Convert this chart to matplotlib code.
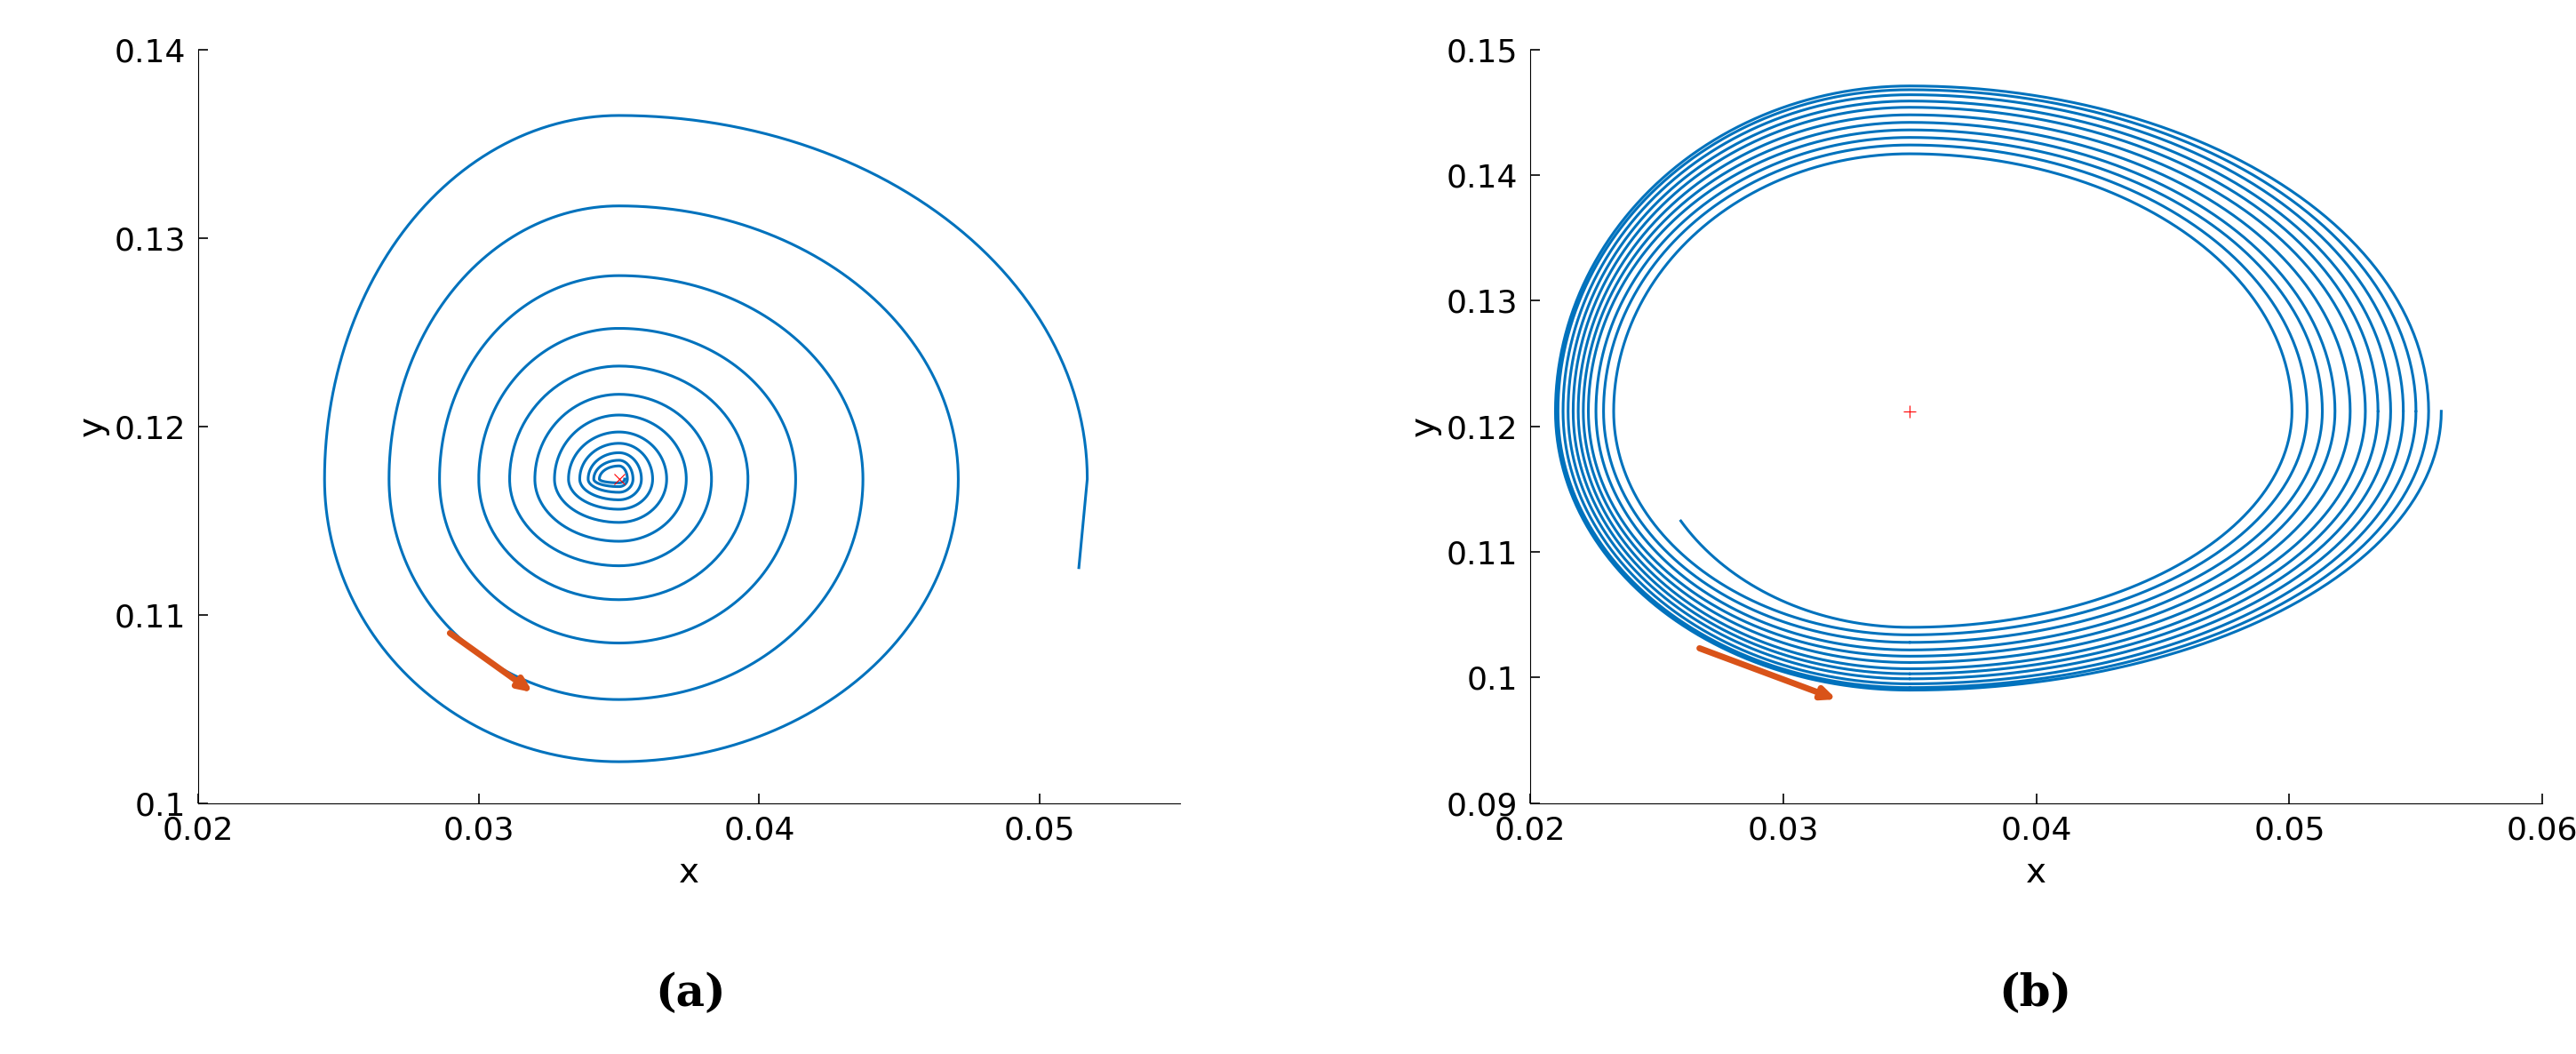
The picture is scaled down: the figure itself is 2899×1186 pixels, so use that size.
import numpy as np
import matplotlib
matplotlib.use("Agg")
import matplotlib.pyplot as plt

# ---- data: quarter-turn extremes ----
# panel (a): counter-clockwise inward spiral, center
a_center = (0.0350, 0.1172)
a_right  = [0.0517, 0.0471, 0.0437, 0.0413, 0.0396, 0.0383, 0.0374, 0.0367, 0.0362, 0.0358, 0.0355, 0.0353]
a_top    = [0.1365, 0.1317, 0.1280, 0.1252, 0.1232, 0.1217, 0.1206, 0.1197, 0.1191, 0.1186, 0.1182, 0.1179]
a_left   = [0.0245, 0.0268, 0.0286, 0.0300, 0.0311, 0.0320, 0.0327, 0.0332, 0.0336, 0.0339, 0.0341, 0.0343]
a_bottom = [0.1022, 0.1055, 0.1085, 0.1108, 0.1126, 0.1139, 0.1149, 0.1156, 0.1161, 0.1165, 0.1168, 0.1170]
a_start = (0.0514, 0.1125)
a_arrow = ((0.0289, 0.1091), (0.0320, 0.1058))

# panel (b): counter-clockwise outward spiral
b_center = (0.0350, 0.1212)
b_left   = [0.0245, 0.0233, 0.0229, 0.0226, 0.0223, 0.0221, 0.0219, 0.0217, 0.0215, 0.0213, 0.0211, 0.0210]
b_bottom = [0.1040, 0.1034, 0.1028, 0.1022, 0.1017, 0.1012, 0.1007, 0.1003, 0.0999, 0.0995, 0.0992, 0.0990]
b_right  = [0.0501, 0.0507, 0.0513, 0.0518, 0.0524, 0.0530, 0.0535, 0.0540, 0.0545, 0.0550, 0.0555, 0.0560]
b_top    = [0.1417, 0.1424, 0.1430, 0.1436, 0.1442, 0.1448, 0.1454, 0.1459, 0.1464, 0.1468, 0.1471, 0.1473]
b_start_y = 0.1125
b_arrow = ((0.0266, 0.1024), (0.0322, 0.0982))

BLUE = "#0072BD"
ORANGE = "#D95319"

def quarter(cx, cy, p0, p1, t0, t1, n=60):
    # p0 / p1 are radii along the axes at angles t0 / t1
    t = np.linspace(t0, t1, n)
    rx = np.where(np.abs(np.cos(t)) > 0, 1, 1)
    xs, ys = [], []
    return t

def arc(cx, cy, ext, angles, n=60):
    # ext: list of (value, kind) in order; angles: start angle of each
    X, Y = [], []
    for (v0, k0, a0), (v1, k1, a1) in zip(ext[:-1], ext[1:]):
        t = np.linspace(a0, a1, n)
        if k0 == 'x':
            rx, ry = v0 - cx, v1 - cy
        else:
            ry, rx = v0 - cy, v1 - cx
        rx, ry = abs(rx), abs(ry)
        X.append(cx + rx * np.cos(t)); Y.append(cy + ry * np.sin(t))
    return np.concatenate(X), np.concatenate(Y)

fig = plt.figure(figsize=(28.99, 11.86), dpi=100)
plt.rcParams['font.family'] = ['DejaVu Sans']

# ---- (a)
cx, cy = a_center
ext = []
ang = 0.0
for r, t, l, b in zip(a_right, a_top, a_left, a_bottom):
    ext += [(r, 'x', ang), (t, 'y', ang + np.pi/2), (l, 'x', ang + np.pi), (b, 'y', ang + 1.5*np.pi)]
    ang += 2*np.pi
ext.append((a_center[0]+0.0002, 'x', ang))
xa, ya = arc(cx, cy, ext, None)
xa = np.concatenate([[a_start[0]], xa]); ya = np.concatenate([[a_start[1]], ya])

ax1 = fig.add_axes([0.077, 0.238, 0.381, 0.715])
ax1.plot(xa, ya, color=BLUE, lw=2.2)
ax1.plot(*a_center, marker='x', color='red', ms=8, mew=0.8)
ax1.annotate('', xy=a_arrow[1], xytext=a_arrow[0],
             arrowprops=dict(arrowstyle='-|>,head_length=0.9,head_width=0.4', color=ORANGE, lw=5))
ax1.set_xlim(0.02, 0.055); ax1.set_ylim(0.1, 0.14)
ax1.set_xticks([0.02, 0.03, 0.04, 0.05]); ax1.set_xticklabels(['0.02', '0.03', '0.04', '0.05'])
ax1.set_yticks([0.1, 0.11, 0.12, 0.13, 0.14]); ax1.set_yticklabels(['0.1', '0.11', '0.12', '0.13', '0.14'])

# ---- (b)
cx, cy = b_center
ext = []
ang = np.pi
for l, b, r, t in zip(b_left, b_bottom, b_right, b_top):
    ext += [(l, 'x', ang), (b, 'y', ang + np.pi/2), (r, 'x', ang + np.pi), (t, 'y', ang + 1.5*np.pi)]
    ang += 2*np.pi
ext = ext[:-1]
xb, yb = arc(cx, cy, ext, None)
n_first = 60
keep = np.ones_like(xb, bool)
keep[:n_first] = yb[:n_first] <= b_start_y
xb, yb = xb[keep], yb[keep]

ax2 = fig.add_axes([0.594, 0.238, 0.393, 0.715])
ax2.plot(xb, yb, color=BLUE, lw=2.2)
ax2.plot(*b_center, marker='+', color='red', ms=10, mew=0.8)
ax2.annotate('', xy=b_arrow[1], xytext=b_arrow[0],
             arrowprops=dict(arrowstyle='-|>,head_length=0.9,head_width=0.4', color=ORANGE, lw=5))
ax2.set_xlim(0.02, 0.06); ax2.set_ylim(0.09, 0.15)
ax2.set_xticks([0.02, 0.03, 0.04, 0.05, 0.06]); ax2.set_xticklabels(['0.02', '0.03', '0.04', '0.05', '0.06'])
ax2.set_yticks([0.09, 0.1, 0.11, 0.12, 0.13, 0.14, 0.15])
ax2.set_yticklabels(['0.09', '0.1', '0.11', '0.12', '0.13', '0.14', '0.15'])

for ax in (ax1, ax2):
    ax.spines['top'].set_visible(False); ax.spines['right'].set_visible(False)
    ax.tick_params(labelsize=26, direction='in', length=8, width=1.2, pad=10)
    ax.set_xlabel('x', fontsize=28, labelpad=8)
    ax.set_ylabel('y', fontsize=28, labelpad=4)

fig.text(0.268, 0.057, '(a)', fontsize=36, fontweight='bold', family='DejaVu Serif', ha='center', va='center')
fig.text(0.790, 0.057, '(b)', fontsize=36, fontweight='bold', family='DejaVu Serif', ha='center', va='center')
fig.savefig('out.png', dpi=100)
